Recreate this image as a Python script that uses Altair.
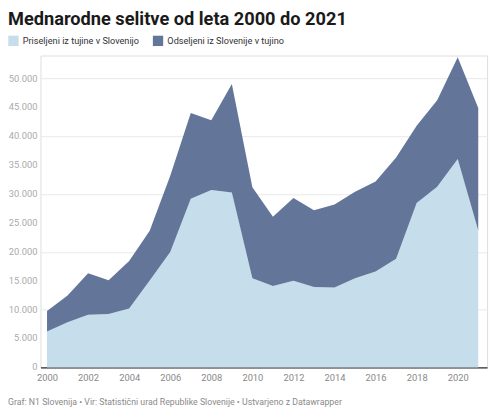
import altair as alt
import pandas as pd

years = [2000, 2001, 2002, 2003, 2004, 2005, 2006, 2007, 2008, 2009, 2010,
         2011, 2012, 2013, 2014, 2015, 2016, 2017, 2018, 2019, 2020, 2021]
immigrants = [6200, 7800, 9100, 9250, 10200, 15050, 20000, 29200, 30700, 30300, 15450,
              14100, 15000, 13900, 13850, 15450, 16600, 18800, 28450, 31300, 36100, 23700]
emigrants = [3550, 4650, 7200, 5850, 8200, 8600, 13200, 14850, 12100, 18750, 15750,
             12000, 14350, 13300, 14350, 14950, 15600, 17550, 13400, 14950, 17600, 21200]

series_names = ["Priseljeni iz tujine v Slovenijo", "Odseljeni iz Slovenije v tujino"]
series_colors = ["#c0d9e9", "#52678f"]
y_ticks = [0, 5000, 10000, 15000, 20000, 25000, 30000, 35000, 40000, 45000, 50000]
y_tick_labels = ["0", "5.000", "10.000", "15.000", "20.000", "25.000",
                 "30.000", "35.000", "40.000", "45.000", "50.000"]
x_ticks = list(range(2000, 2021, 2))
title_text = "Mednarodne selitve od leta 2000 do 2021"
footer_text = "Graf: N1 Slovenija • Vir: Statistični urad Republike Slovenije • Ustvarjeno z Datawrapper"

rows = []
for i, yr in enumerate(years):
    rows.append({"year": yr, "series": series_names[0], "ord": 0, "value": immigrants[i]})
    rows.append({"year": yr, "series": series_names[1], "ord": 1, "value": emigrants[i]})
df = pd.DataFrame(rows)
ticks_df = pd.DataFrame({"v": y_ticks, "lab": y_tick_labels})

W, H = 454, 317
PL = 33
FONT = "Roboto"
yscale = alt.Scale(domain=[0, 54000], nice=False)

area = alt.Chart(df).mark_area(opacity=0.9, strokeWidth=0).encode(
    x=alt.X("year:Q",
            scale=alt.Scale(domain=[1999.68, 2021.43], nice=False, zero=False),
            axis=alt.Axis(values=x_ticks, format="d", title=None, grid=False,
                          domainColor="#333333", domainWidth=1.3, ticks=False,
                          labelColor="#888888", labelFontSize=9.5, labelFont=FONT,
                          labelPadding=5)),
    y=alt.Y("value:Q", stack="zero", scale=yscale,
            axis=alt.Axis(values=y_ticks, title=None, domain=False, ticks=False,
                          labels=False, gridColor="#e9e9e9")),
    color=alt.Color("series:N",
                    scale=alt.Scale(domain=series_names, range=series_colors),
                    legend=alt.Legend(title=None, orient="none", legendX=-PL, legendY=-20.5,
                                      direction="horizontal", symbolType="square",
                                      symbolSize=110, symbolStrokeWidth=0, symbolOpacity=0.9,
                                      labelFontSize=9.3, labelFont=FONT, labelColor="#333333",
                                      columnPadding=13, labelOffset=4)),
    order=alt.Order("ord:Q"),
)

ylabels = alt.Chart(ticks_df).mark_text(
    align="right", baseline="middle", dx=-3, fontSize=9.5, font=FONT, color="#aaaaaa"
).encode(x=alt.value(0), y=alt.Y("v:Q", scale=yscale), text="lab:N")

title = alt.Chart(pd.DataFrame({"t": [title_text]})).mark_text(
    align="left", baseline="alphabetic", fontSize=18.5, fontWeight="bold",
    font=FONT, color="#1a1a1a"
).encode(x=alt.value(-PL), y=alt.value(-31), text="t:N")

footer = alt.Chart(pd.DataFrame({"t": [footer_text]})).mark_text(
    align="left", baseline="alphabetic", fontSize=8.9, font=FONT, color="#8a8a8a"
).encode(x=alt.value(-PL), y=alt.value(H + 38), text="t:N")

chart = alt.layer(area, ylabels, title, footer).properties(
    width=W, height=H,
    autosize=alt.AutoSizeParams(type="none"),
    padding={"left": PL, "top": 45, "right": 5, "bottom": 40},
).configure_view(stroke=None).configure(background="white")

chart.save("out.html", embed_options={"renderer": "svg", "actions": False})
